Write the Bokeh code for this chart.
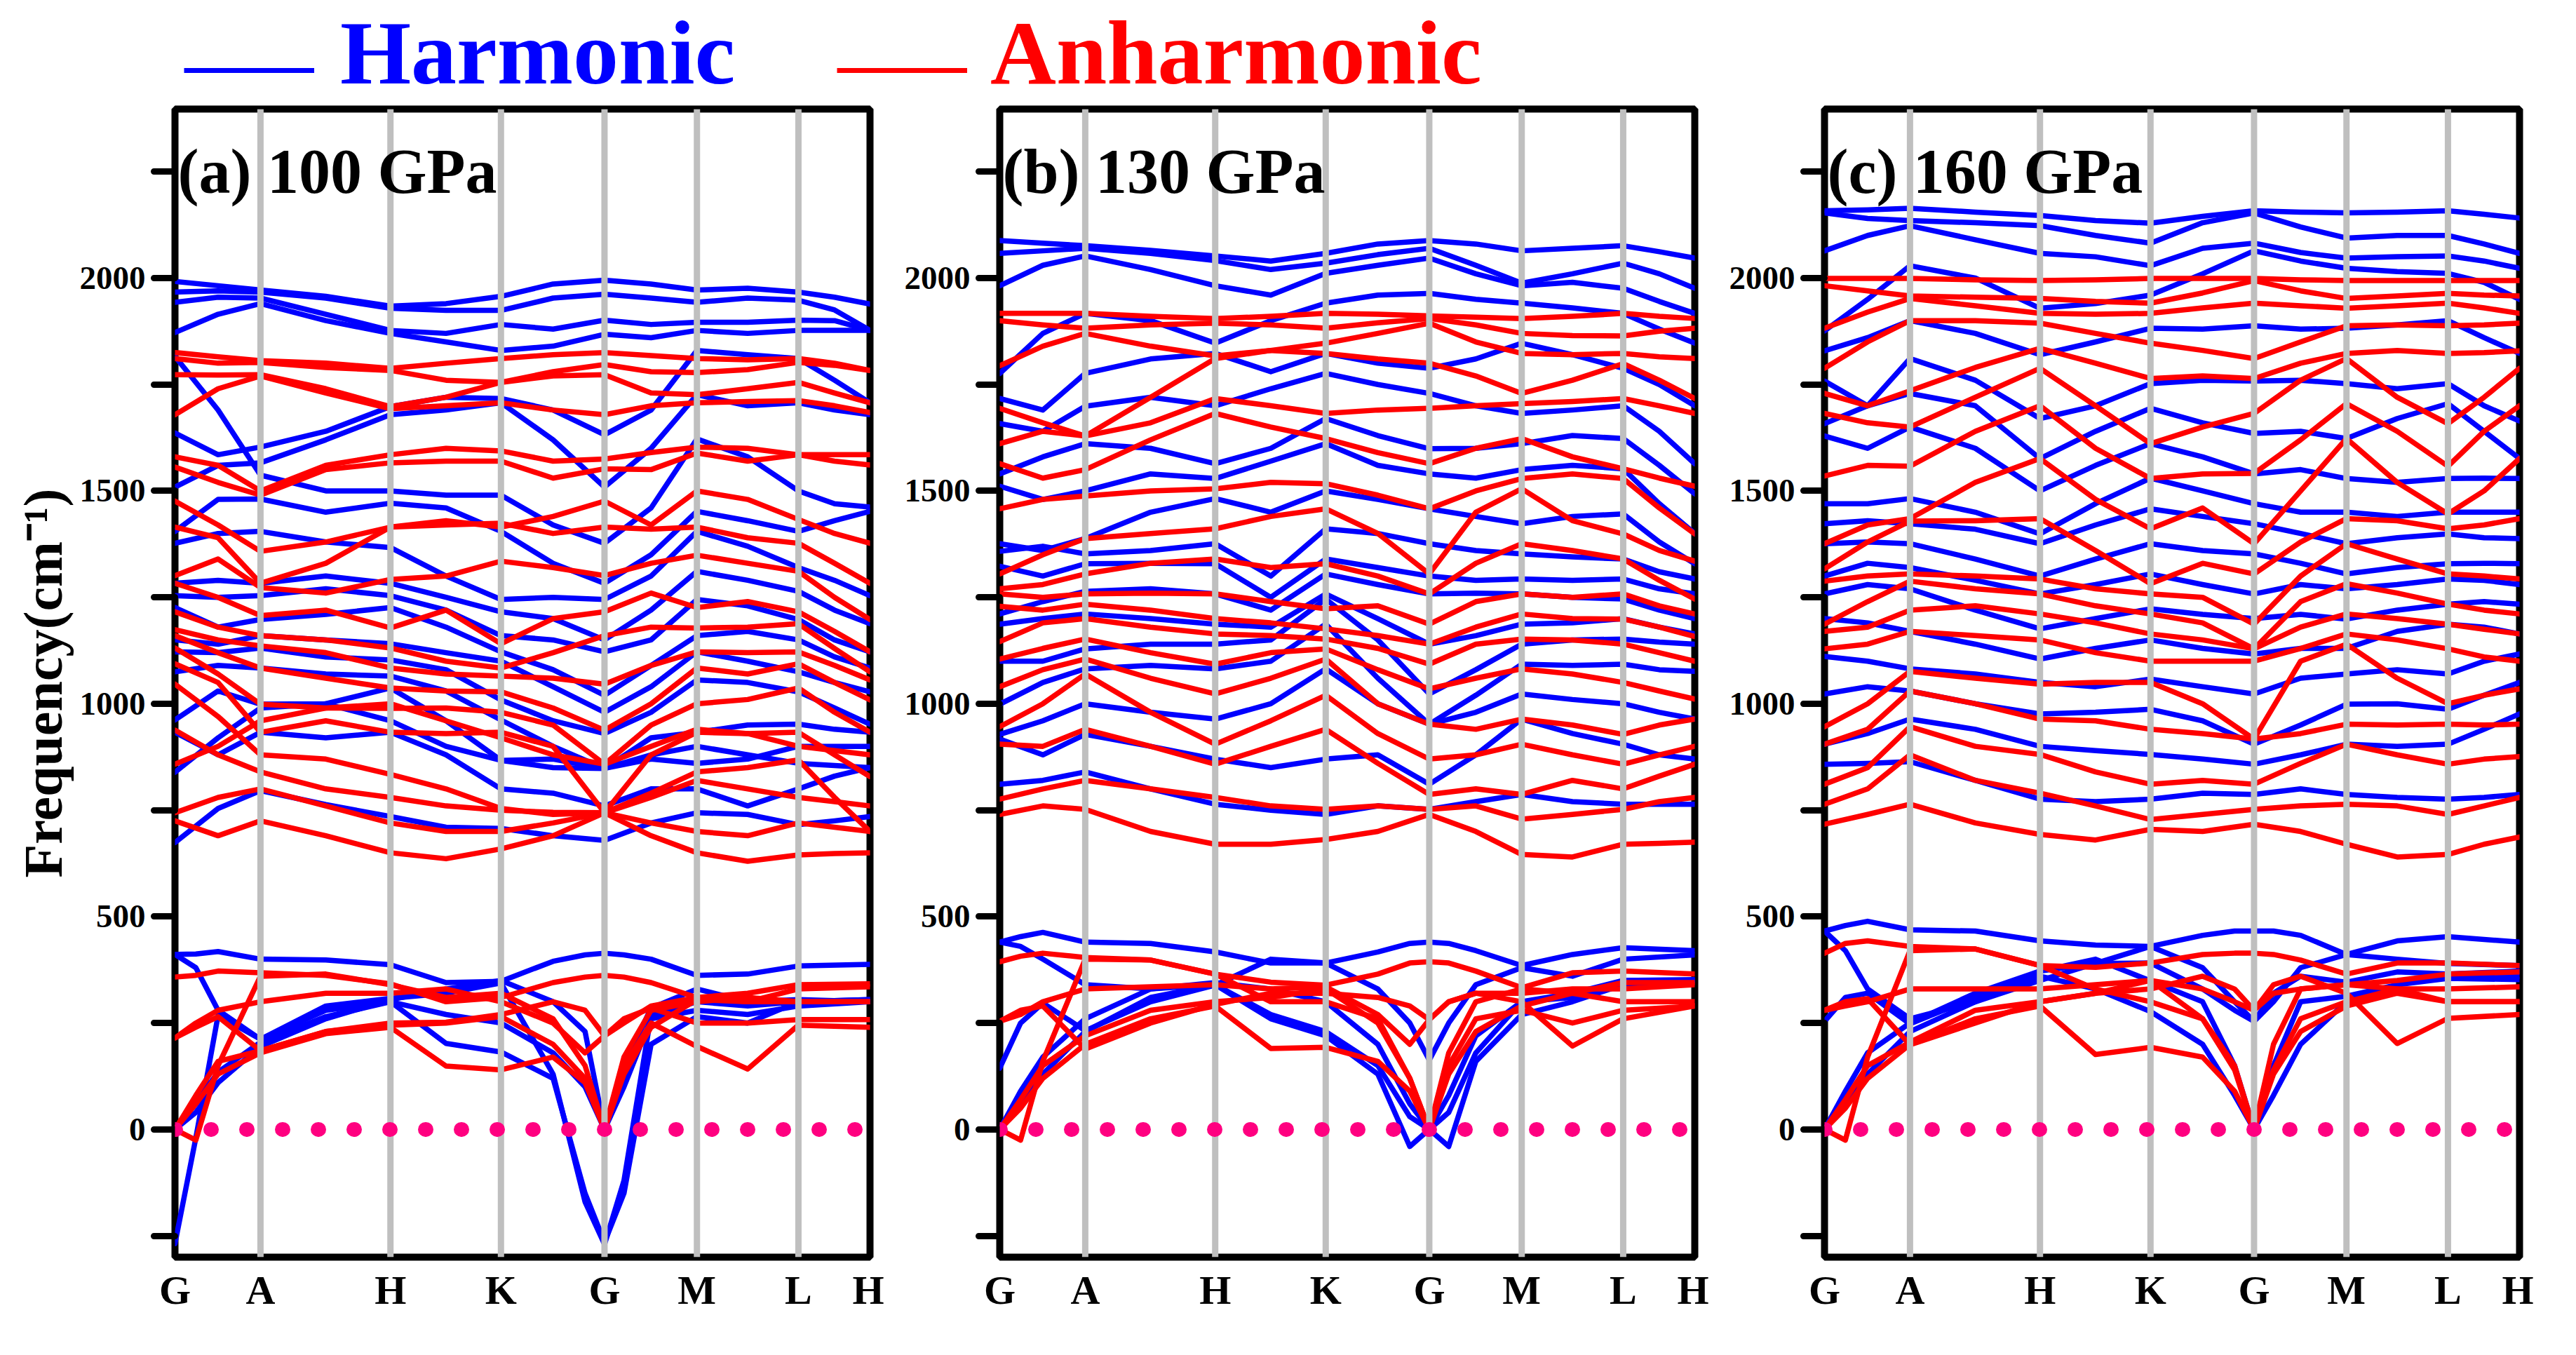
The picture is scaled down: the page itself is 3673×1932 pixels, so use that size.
from bokeh.plotting import figure
from bokeh.models import Range1d, FixedTicker, Span, Label, Legend, LegendItem
from bokeh.layouts import column, row
from bokeh.embed import file_html
from bokeh.resources import INLINE

# ---------------- data ----------------
SYM_POS = [0, 123, 310, 469, 618, 751, 897, 1000]
SYM_LABELS = ["G", "A", "H", "K", "G", "M", "L", "H"]
X_HI = [0, 62, 123, 217, 310, 390, 469, 544, 618, 685, 751, 824, 897, 949, 1000]
X_LO = [0, 30, 62, 123, 217, 310, 390, 469, 544, 590, 618, 646, 685, 751, 824, 897, 1000]
Y_MAJOR = [0, 500, 1000, 1500, 2000]
Y_MINOR = [-250, 250, 750, 1250, 1750, 2250]
PANEL_TITLES = ["(a) 100 GPa", "(b) 130 GPa", "(c) 160 GPa"]
SERIES = ["Harmonic", "Anharmonic"]

# panel (a) 100 GPa
A_HARM_HI = [
    [1992,1982,1972,1957,1934,1940,1957,1986,1995,1986,1972,1976,1967,1955,1939],
    [1967,1970,1967,1953,1929,1924,1924,1953,1962,1953,1943,1953,1948,1925,1877],
    [1943,1955,1953,1915,1877,1870,1891,1880,1901,1891,1896,1896,1901,1900,1877],
    [1872,1915,1940,1900,1870,1850,1830,1840,1868,1860,1877,1870,1877,1877,1877],
    [1636,1585,1603,1640,1698,1720,1717,1690,1632,1690,1830,1820,1811,1760,1707],
    [1509,1560,1566,1620,1679,1690,1707,1620,1509,1600,1726,1700,1707,1690,1679],
    [1816,1690,1537,1500,1500,1490,1490,1420,1377,1460,1622,1580,1500,1470,1462],
    [1405,1480,1481,1450,1471,1460,1405,1330,1283,1350,1452,1430,1405,1430,1452],
    [1377,1400,1405,1380,1367,1300,1245,1250,1245,1300,1405,1370,1320,1290,1254],
    [1283,1290,1283,1300,1283,1250,1216,1200,1150,1220,1311,1290,1264,1220,1188],
    [1254,1250,1254,1270,1254,1220,1160,1150,1122,1150,1245,1230,1198,1150,1122],
    [1226,1180,1198,1210,1226,1180,1122,1080,1020,1090,1160,1170,1150,1110,1084],
    [1150,1140,1160,1150,1141,1120,1100,1040,980,1040,1122,1100,1075,1050,1028],
    [1122,1120,1131,1110,1103,1080,1009,960,930,980,1056,1050,1028,990,952],
    [1075,1090,1084,1070,1065,1030,962,900,848,920,933,950,952,940,933],
    [962,1030,999,1000,1037,960,867,850,848,870,860,870,900,900,900],
    [933,880,933,920,933,880,800,790,760,800,800,760,800,830,850],
    [839,920,990,1000,960,900,867,870,848,880,900,880,860,855,850],
    [674,754,796,763,735,710,707,690,679,720,744,740,716,725,735],
]
A_ANH_HI = [
    [1825,1815,1806,1800,1788,1800,1811,1820,1825,1818,1811,1808,1811,1800,1783],
    [1811,1800,1802,1790,1783,1760,1755,1780,1797,1780,1778,1785,1802,1795,1783],
    [1773,1772,1773,1740,1698,1720,1755,1770,1773,1730,1726,1740,1755,1730,1707],
    [1679,1740,1770,1730,1693,1700,1707,1690,1679,1700,1707,1710,1712,1700,1684],
    [1580,1560,1500,1560,1585,1600,1594,1570,1575,1590,1603,1600,1585,1585,1585],
    [1556,1520,1490,1550,1566,1570,1570,1530,1552,1550,1589,1570,1585,1570,1561],
    [1476,1420,1358,1380,1415,1430,1415,1440,1476,1420,1500,1480,1433,1400,1377],
    [1415,1390,1283,1330,1415,1420,1424,1400,1415,1410,1415,1390,1377,1330,1283],
    [1301,1340,1273,1260,1292,1300,1335,1320,1301,1330,1349,1330,1311,1250,1198],
    [1283,1250,1207,1220,1178,1220,1141,1200,1216,1260,1226,1240,1216,1170,1122],
    [1216,1180,1160,1150,1131,1100,1084,1120,1160,1180,1178,1180,1188,1130,1075],
    [1174,1150,1136,1120,1084,1070,1065,1060,1046,1090,1122,1120,1122,1090,1056],
    [1160,1120,1084,1060,1037,1030,1028,990,938,1000,1084,1070,1094,1050,1009],
    [1131,1070,999,990,989,990,980,950,858,950,1000,1010,1037,980,933],
    [1094,1050,933,960,933,930,933,900,744,880,933,930,933,880,829],
    [1046,970,880,870,834,800,754,740,744,790,840,850,868,780,700],
    [938,880,840,800,780,760,750,745,744,780,820,800,780,770,760],
    [858,900,960,990,1000,960,920,880,858,900,940,930,900,890,880],
    [744,780,800,760,720,700,700,720,744,720,700,690,720,710,700],
    [725,690,725,690,650,636,659,690,744,690,650,630,645,648,650],
]
A_HARM_LO = [
    [411,412,418,400,398,387,345,348,395,410,414,410,400,362,365,384,388],
    [-268,-20,268,212,290,308,320,344,130,-170,-270,-120,268,300,290,300,305],
    [0,60,135,205,265,300,202,182,120,-150,-265,-150,200,265,250,300,305],
    [0,40,110,195,260,305,330,350,300,230,0,150,285,330,300,305,300],
    [411,380,280,212,280,300,270,250,180,100,0,100,260,280,270,290,300],
]
A_ANH_LO = [
    [358,362,372,368,362,342,300,310,345,358,362,358,345,310,320,340,342],
    [215,240,265,185,230,250,252,270,300,280,220,260,285,250,250,258,258],
    [0,-25,150,360,365,340,310,320,260,150,0,130,240,305,300,330,335],
    [0,80,160,185,230,245,250,265,200,120,0,150,250,195,142,245,240],
    [0,60,130,180,225,240,149,140,170,110,0,170,280,300,310,300,300],
    [215,250,280,300,320,320,330,300,250,180,220,250,290,310,300,300,300],
]

# panel (b) 130 GPa
B_HARM_HI = [
    [2088,2082,2076,2065,2052,2040,2058,2080,2088,2080,2064,2070,2076,2062,2047],
    [2058,2064,2070,2058,2041,2020,2035,2055,2070,2030,1988,2010,2035,2010,1976],
    [1982,2030,2052,2020,1982,1960,2011,2030,2047,2010,1982,1990,1976,1945,1917],
    [1776,1870,1917,1900,1847,1900,1941,1960,1964,1950,1941,1930,1917,1880,1847],
    [1717,1690,1776,1810,1823,1780,1823,1800,1788,1810,1847,1820,1788,1750,1700],
    [1658,1640,1699,1720,1700,1740,1776,1750,1729,1700,1682,1690,1700,1640,1564],
    [1540,1580,1611,1600,1564,1600,1670,1630,1599,1600,1611,1630,1623,1560,1493],
    [1511,1480,1500,1540,1529,1570,1611,1560,1540,1530,1550,1560,1552,1470,1400],
    [1376,1360,1388,1450,1482,1450,1500,1480,1458,1440,1423,1440,1446,1380,1329],
    [1358,1370,1352,1360,1376,1300,1411,1400,1376,1360,1352,1345,1340,1310,1293],
    [1323,1300,1329,1330,1329,1250,1340,1320,1300,1290,1293,1290,1293,1270,1258],
    [1211,1240,1264,1270,1258,1220,1305,1280,1258,1260,1258,1250,1246,1220,1200],
    [1187,1200,1211,1200,1187,1180,1258,1200,1140,1160,1187,1190,1200,1180,1164],
    [1100,1100,1129,1140,1140,1150,1246,1150,1023,1080,1140,1150,1152,1145,1140],
    [999,1050,1082,1090,1082,1100,1187,1060,952,1020,1093,1090,1093,1080,1076],
    [928,960,1000,980,964,1000,1082,1000,952,980,1023,1010,1000,980,964],
    [917,880,928,900,870,850,870,880,811,880,964,930,905,880,870],
    [811,820,840,800,764,750,740,760,752,770,787,770,764,764,764],
]
B_ANH_HI = [
    [1917,1917,1917,1910,1905,1910,1917,1915,1911,1908,1905,1910,1917,1910,1905],
    [1900,1890,1882,1890,1894,1890,1882,1895,1905,1890,1870,1865,1864,1875,1882],
    [1794,1840,1870,1840,1817,1830,1847,1870,1894,1850,1823,1820,1823,1815,1811],
    [1694,1660,1629,1720,1811,1830,1823,1810,1800,1770,1729,1760,1799,1760,1717],
    [1611,1640,1629,1660,1717,1700,1682,1690,1694,1700,1705,1710,1717,1700,1682],
    [1564,1530,1550,1620,1682,1650,1623,1590,1564,1600,1623,1580,1552,1530,1511],
    [1458,1480,1488,1500,1505,1520,1517,1490,1458,1500,1529,1540,1529,1460,1399],
    [1305,1350,1388,1400,1411,1440,1458,1400,1305,1450,1505,1430,1399,1360,1335],
    [1270,1280,1305,1330,1340,1320,1329,1300,1258,1330,1376,1360,1340,1290,1246],
    [1258,1250,1258,1260,1258,1240,1223,1230,1187,1240,1258,1250,1258,1230,1211],
    [1229,1220,1234,1220,1200,1190,1176,1160,1140,1180,1211,1200,1199,1180,1158],
    [1146,1190,1200,1180,1164,1160,1152,1130,1093,1140,1152,1150,1140,1120,1100],
    [1105,1130,1152,1120,1093,1120,1129,1080,1035,1060,1082,1070,1050,1030,1011],
    [1040,1080,1105,1060,1023,1060,1105,1000,952,940,964,950,928,950,964],
    [946,1000,1070,980,905,960,1020,930,870,880,905,880,858,880,900],
    [905,900,940,900,858,900,940,860,787,800,787,820,800,830,858],
    [776,800,820,800,780,760,752,760,752,760,729,740,752,770,780],
    [740,760,752,700,670,670,681,700,740,700,646,640,670,672,675],
]
B_HARM_LO = [
    [440,453,463,440,437,417,391,391,417,437,440,437,420,385,411,427,420],
    [144,250,297,232,300,339,400,391,330,250,163,250,340,380,360,400,410],
    [0,90,170,260,330,340,260,220,130,-40,0,-40,160,270,300,340,350],
    [0,60,130,230,310,340,270,230,150,30,0,40,180,300,310,350,350],
    [440,430,400,340,330,345,330,300,200,60,0,80,220,300,320,350,352],
]
B_ANH_LO = [
    [394,407,414,404,398,365,346,339,365,391,394,391,372,333,368,372,365],
    [254,280,290,189,250,294,320,320,310,290,258,300,320,300,196,260,290],
    [0,-25,160,400,398,365,300,300,260,120,0,180,300,330,320,345,345],
    [0,70,150,220,280,300,310,330,250,120,0,150,260,280,250,280,290],
    [0,50,120,200,260,290,190,193,160,90,0,130,230,290,320,300,300],
    [254,270,300,330,335,340,330,335,270,200,258,300,320,320,330,330,340],
]

# panel (c) 160 GPa
C_HARM_HI = [
    [2158,2160,2164,2155,2147,2135,2129,2145,2158,2155,2153,2155,2158,2150,2141],
    [2153,2140,2135,2130,2123,2100,2082,2130,2153,2120,2094,2100,2100,2080,2058],
    [2064,2100,2123,2090,2058,2050,2029,2070,2082,2060,2047,2050,2052,2040,2023],
    [1876,1950,2029,2000,1929,1940,1960,2010,2064,2040,2023,2015,2011,1990,1950],
    [1829,1860,1900,1870,1820,1850,1882,1880,1888,1880,1882,1890,1900,1860,1823],
    [1758,1700,1811,1760,1670,1700,1752,1760,1758,1760,1752,1740,1752,1700,1664],
    [1658,1700,1729,1700,1576,1640,1694,1660,1635,1640,1623,1670,1705,1640,1576],
    [1629,1600,1650,1600,1500,1560,1611,1580,1540,1550,1529,1520,1529,1530,1529],
    [1470,1470,1482,1450,1399,1470,1530,1500,1470,1450,1450,1440,1450,1450,1450],
    [1423,1430,1423,1410,1376,1420,1458,1440,1423,1400,1376,1390,1399,1390,1388],
    [1376,1380,1376,1340,1300,1340,1376,1360,1352,1330,1305,1320,1329,1330,1329],
    [1300,1330,1320,1290,1258,1280,1305,1280,1258,1280,1270,1280,1293,1290,1280],
    [1258,1280,1270,1220,1176,1200,1223,1210,1200,1210,1199,1220,1234,1240,1234],
    [1200,1190,1170,1140,1105,1130,1150,1130,1117,1130,1130,1170,1187,1180,1164],
    [1111,1100,1082,1070,1050,1040,1058,1040,1023,1060,1070,1080,1070,1100,1117],
    [1023,1040,1030,1000,976,980,987,960,905,950,999,1000,987,1020,1050],
    [905,930,964,940,900,890,881,870,858,880,905,900,905,940,976],
    [858,860,864,820,776,770,776,790,787,800,787,780,776,780,787],
]
C_ANH_HI = [
    [1999,1999,1999,1996,1994,1996,1999,1999,1999,1996,1994,1994,1994,1994,1994],
    [1982,1970,1958,1955,1952,1945,1941,1965,1994,1970,1952,1958,1964,1960,1958],
    [1882,1920,1952,1935,1917,1915,1917,1930,1941,1935,1929,1935,1941,1930,1917],
    [1788,1850,1900,1900,1894,1870,1847,1830,1811,1850,1888,1890,1888,1890,1894],
    [1729,1700,1735,1790,1835,1800,1764,1770,1764,1800,1823,1830,1823,1825,1829],
    [1682,1660,1650,1720,1788,1700,1611,1650,1682,1760,1811,1720,1658,1720,1788],
    [1535,1560,1558,1640,1700,1600,1529,1540,1541,1620,1705,1640,1558,1640,1700],
    [1376,1420,1435,1520,1576,1480,1411,1460,1376,1500,1623,1520,1446,1500,1576],
    [1317,1380,1429,1430,1435,1360,1282,1330,1305,1380,1435,1430,1411,1420,1435],
    [1288,1300,1305,1300,1293,1270,1258,1250,1187,1300,1376,1340,1305,1300,1293],
    [1187,1240,1288,1270,1258,1230,1211,1190,1129,1240,1282,1260,1234,1220,1211],
    [1170,1180,1220,1230,1211,1190,1164,1150,1129,1180,1211,1200,1187,1175,1164],
    [1129,1140,1170,1160,1150,1120,1100,1100,1100,1130,1164,1150,1129,1110,1100],
    [946,1000,1076,1060,1046,1050,1050,1000,917,1100,1140,1060,1000,1020,1035],
    [905,940,1030,1000,964,960,940,930,917,930,952,950,952,950,952],
    [811,850,946,900,881,840,811,820,811,860,905,880,858,870,876],
    [764,800,880,820,790,760,728,740,752,760,764,760,740,760,780],
    [717,740,764,720,693,680,705,700,717,700,670,640,646,670,687],
]
C_HARM_LO = [
    [466,479,489,469,466,443,433,430,456,466,466,466,456,411,443,453,440],
    [254,310,320,248,310,372,390,391,330,280,254,320,360,346,370,365,372],
    [0,90,180,250,320,372,400,349,300,150,0,150,300,313,340,355,352],
    [0,60,130,230,300,360,330,277,200,80,0,80,200,300,340,365,360],
    [466,420,330,260,300,350,390,430,380,300,254,300,380,411,400,390,385],
]
C_ANH_LO = [
    [414,437,443,430,424,385,381,391,411,414,414,411,398,365,391,391,385],
    [280,300,307,199,250,300,320,330,360,330,280,340,360,320,202,261,270],
    [0,-25,170,420,424,385,330,300,260,150,0,200,330,340,350,365,370],
    [0,70,150,205,280,300,320,350,260,140,0,140,260,300,330,300,300],
    [0,50,120,200,260,290,176,193,170,90,0,130,230,290,320,300,300],
    [280,290,300,330,330,330,340,350,330,300,280,320,330,340,330,330,335],
]

PANELS = [
    (A_HARM_HI, A_HARM_LO, A_ANH_HI, A_ANH_LO),
    (B_HARM_HI, B_HARM_LO, B_ANH_HI, B_ANH_LO),
    (C_HARM_HI, C_HARM_LO, C_ANH_HI, C_ANH_LO),
]

# ---------------- style ----------------
FONT = "Liberation Serif"
BLUE = "#0000ff"
RED = "#ff0000"
GRAY = "#bfbfbf"
PINK = "#ff0080"
BAND_W = 7.5

FRAME_W, FRAME_H = 991, 1637
TOP_B, BOT_B, RIGHT_B = 5, 90, 20
LEFT_B = [249, 165, 165]


def make_panel(i):
    hh, hl, ah, al = PANELS[i]
    width = LEFT_B[i] + FRAME_W + RIGHT_B
    height = TOP_B + FRAME_H + BOT_B
    p = figure(width=width, height=height, output_backend="svg", toolbar_location=None,
               x_range=Range1d(0, 1000), y_range=Range1d(-300, 2397),
               min_border_left=LEFT_B[i], min_border_right=RIGHT_B,
               min_border_top=TOP_B, min_border_bottom=BOT_B,
               background_fill_color="white", border_fill_color="white")
    p.grid.visible = False
    p.outline_line_color = "black"
    p.outline_line_width = 10

    # bands
    p.multi_line(xs=[X_HI] * len(hh) + [X_LO] * len(hl), ys=hh + hl,
                 line_color=BLUE, line_width=BAND_W, line_join="round", line_cap="round")
    p.multi_line(xs=[X_HI] * len(ah) + [X_LO] * len(al), ys=ah + al,
                 line_color=RED, line_width=BAND_W, line_join="round", line_cap="round")

    # high-symmetry lines
    for xs in SYM_POS[1:-1]:
        p.add_layout(Span(location=xs, dimension="height", line_color=GRAY, line_width=9))
    # zero line
    p.add_layout(Span(location=0, dimension="width", line_color=PINK, line_width=21,
                      line_dash="1 50", line_cap="round"))

    p.add_layout(Label(x=4, y=2250, text=PANEL_TITLES[i], text_font=FONT,
                       text_font_style="bold", text_font_size="90px", text_color="black",
                       text_baseline="alphabetic"))

    # x axis
    xa = p.xaxis[0]
    xa.ticker = FixedTicker(ticks=SYM_POS)
    xa.major_label_overrides = {pos: lab for pos, lab in zip(SYM_POS, SYM_LABELS)}
    xa.major_tick_line_color = None
    xa.minor_tick_line_color = None
    xa.axis_line_color = None
    xa.major_label_text_font = FONT
    xa.major_label_text_font_style = "bold"
    xa.major_label_text_font_size = "58px"
    xa.major_label_text_color = "black"
    xa.major_label_standoff = 8

    # y axis
    ya = p.yaxis[0]
    ya.ticker = FixedTicker(ticks=Y_MAJOR, minor_ticks=Y_MINOR)
    ya.axis_line_color = None
    ya.major_tick_out = 30
    ya.major_tick_in = 0
    ya.minor_tick_out = 30
    ya.minor_tick_in = 0
    ya.major_tick_line_width = 9
    ya.minor_tick_line_width = 9
    ya.major_tick_line_cap = "round"
    ya.minor_tick_line_cap = "round"
    ya.major_tick_line_color = "black"
    ya.minor_tick_line_color = "black"
    ya.major_label_text_font = FONT
    ya.major_label_text_font_style = "bold"
    ya.major_label_text_font_size = "47px"
    ya.major_label_text_color = "black"
    ya.major_label_standoff = 12
    if i == 0:
        ya.axis_label = "Frequency(cm\u207b\u00b9)"
        ya.axis_label_text_font = FONT
        ya.axis_label_text_font_style = "bold"
        ya.axis_label_text_font_size = "78px"
        ya.axis_label_text_color = "black"
        ya.axis_label_standoff = 6
    return p


panels = [make_panel(i) for i in range(3)]
total_w = sum(pp.width for pp in panels)
LG_H = 150

# legend strip: one legend for each line sample, one for each text
lg = figure(width=total_w, height=LG_H, output_backend="svg", toolbar_location=None,
            x_range=Range1d(0, 1), y_range=Range1d(0, 1),
            x_axis_type=None, y_axis_type=None,
            min_border=0, min_border_left=0, min_border_right=0, min_border_top=0,
            min_border_bottom=0)
lg.grid.visible = False
lg.outline_line_color = None
nan = float("nan")
LEG_SPEC = [(SERIES[0], BLUE, 262, 485), (SERIES[1], RED, 1193, 1412)]
for name, col, x_line, x_text in LEG_SPEC:
    rend = lg.line(x=[nan, nan], y=[nan, nan], line_color=col, line_width=7)
    leg_line = Legend(items=[LegendItem(label=" ", renderers=[rend])], location=(x_line, 43),
                      orientation="horizontal", glyph_width=186, glyph_height=14,
                      label_standoff=0, label_width=1, label_height=14, padding=0, margin=0,
                      spacing=0, label_text_font_size="10px",
                      border_line_color=None, background_fill_alpha=0)
    lg.add_layout(leg_line, "center")
    rend_t = lg.line(x=[nan, nan], y=[nan, nan], line_color=col, line_alpha=0, line_width=1)
    leg_text = Legend(items=[LegendItem(label=name, renderers=[rend_t])], location=(x_text, 0),
                      orientation="horizontal", glyph_width=0, glyph_height=14,
                      label_standoff=0, padding=0, margin=0, spacing=0,
                      label_text_font=FONT, label_text_font_style="bold",
                      label_text_font_size="130px", label_text_color=col,
                      border_line_color=None, background_fill_alpha=0)
    lg.add_layout(leg_text, "center")

layout = column(lg, row(*panels))
open("out.html", "w").write(file_html(layout, INLINE))
